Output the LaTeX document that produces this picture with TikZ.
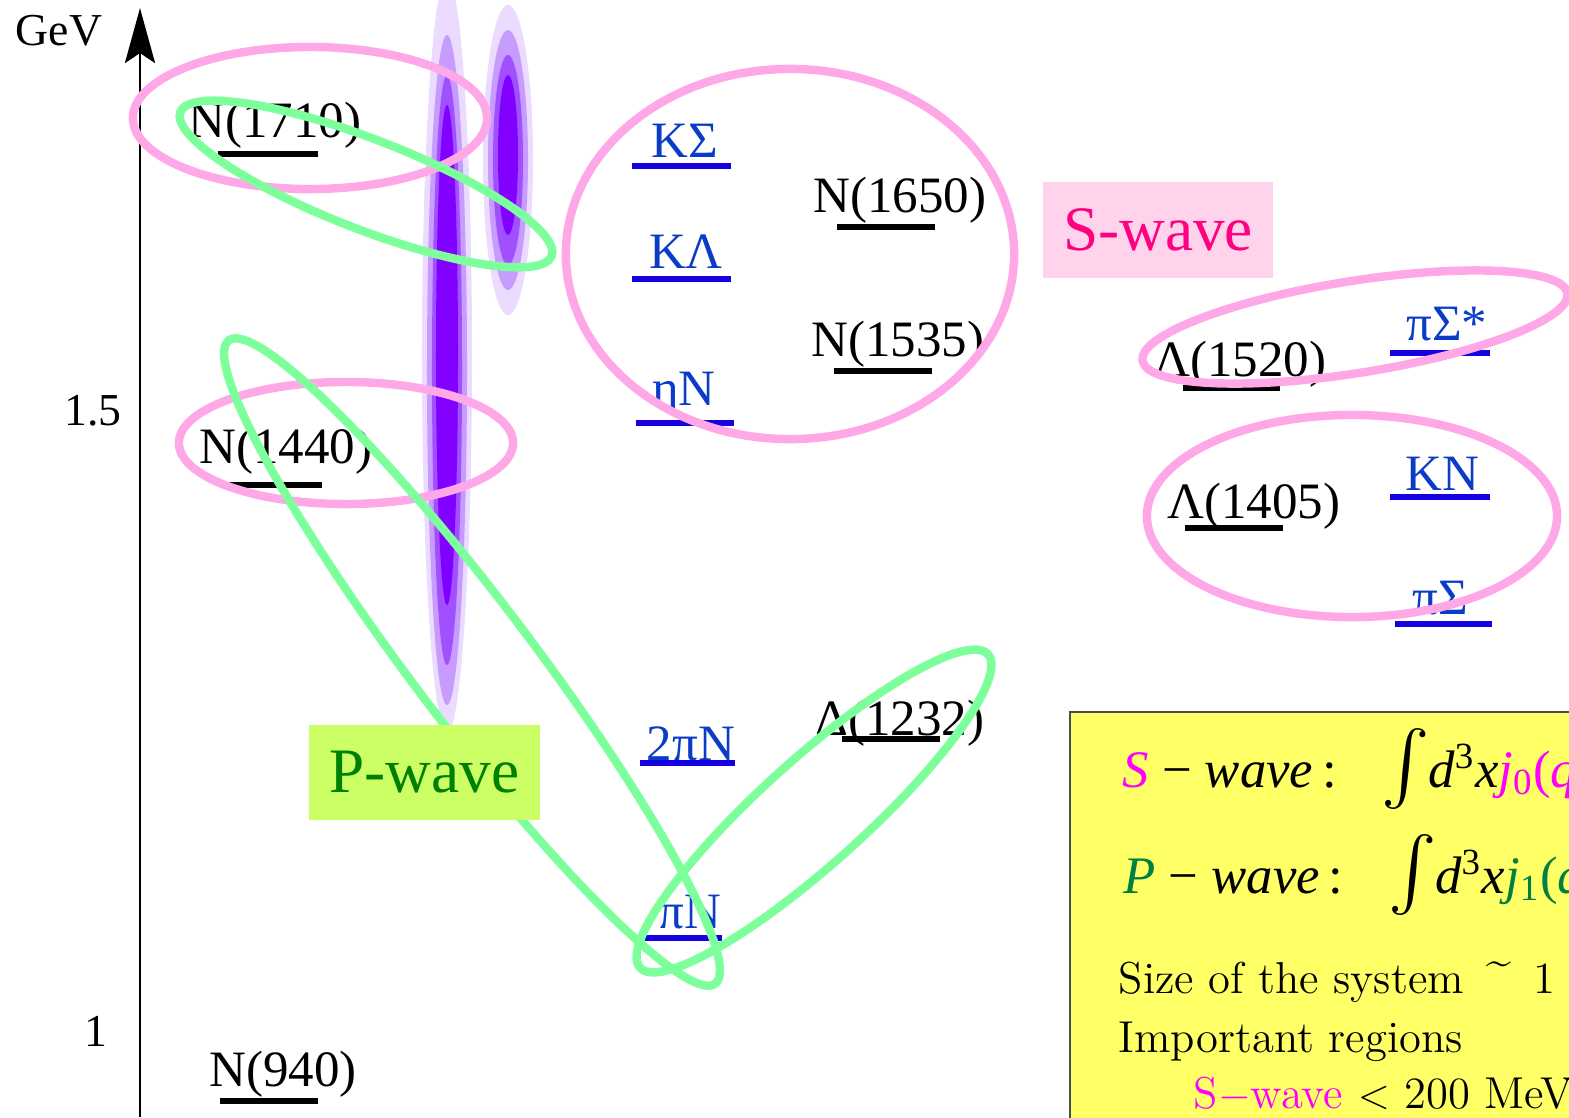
\documentclass[tikz,border=0pt]{standalone}
\usepackage{amsmath}
\usepackage{fontspec}
\newfontfamily\tnr{Liberation Serif}
\usetikzlibrary{arrows.meta}

\definecolor{swaveLine}{HTML}{FFA8E8}
\definecolor{pwaveLine}{HTML}{7DFF9B}
\definecolor{swaveFill}{HTML}{FFD3EB}
\definecolor{swaveText}{HTML}{FF0080}
\definecolor{pwaveFill}{HTML}{CCFF66}
\definecolor{pwaveText}{HTML}{008000}
\definecolor{chanBlue}{HTML}{1400E0}
\definecolor{chanText}{HTML}{0A3CC8}
\definecolor{infoFill}{HTML}{FFFF66}
\definecolor{formMag}{HTML}{FF00FF}
\definecolor{formGreen}{HTML}{008040}
\definecolor{widthA}{HTML}{EBDCFF}
\definecolor{widthB}{HTML}{C89BFF}
\definecolor{widthC}{HTML}{A050FF}
\definecolor{widthD}{HTML}{8200FF}

\begin{document}
\begin{tikzpicture}[
    x=0.01cm, y=-0.01cm,
    axisLabel/.style={font=\tnr\fontsize{13}{15}\selectfont, anchor=base east, inner sep=0pt},
    hadLabel/.style={font=\tnr\fontsize{14.5}{17}\selectfont, anchor=base, inner sep=0pt},
    chanLabel/.style={hadLabel, text=chanText},
    hadBar/.style={line width=1.8pt},
    chanBar/.style={line width=1.7pt, chanBlue},
    swaveRing/.style={swaveLine, line width=2.4pt},
    pwaveRing/.style={pwaveLine, line width=2.4pt},
    waveBox/.style={font=\tnr\fontsize{18}{20}\selectfont, inner sep=0pt,
        minimum width=2.3cm, minimum height=0.95cm},
    infoText/.style={font=\fontsize{12.7}{15}\selectfont, anchor=base west, inner sep=0pt},
    formText/.style={font=\tnr\fontsize{15}{17}\selectfont, anchor=base west, inner sep=0pt}
]
    \useasboundingbox (0,0) rectangle (1569,1117);

    % widths of the resonances
    \fill[widthA] (447,355) ellipse [x radius=0.25cm, y radius=3.78cm];
    \fill[widthB] (447,370) ellipse [x radius=0.20cm, y radius=3.35cm];
    \fill[widthC] (447,370) ellipse [x radius=0.15cm, y radius=2.95cm];
    \fill[widthD] (447,355) ellipse [x radius=0.11cm, y radius=2.5cm];
    \fill[widthA] (508,160) ellipse [x radius=0.25cm, y radius=1.55cm];
    \fill[widthB] (508,160) ellipse [x radius=0.20cm, y radius=1.3cm];
    \fill[widthC] (508,160) ellipse [x radius=0.15cm, y radius=1.05cm];
    \fill[widthD] (508,155) ellipse [x radius=0.10cm, y radius=0.8cm];

    % energy axis
    \coordinate (axisLow) at (140,1117);
    \coordinate (axisTop) at (140,8);
    \draw[line width=0.85pt, -{Stealth[length=0.55cm, width=0.3cm, inset=0.1cm]}] (axisLow) -- (axisTop);
    \node[axisLabel] (gev) at (103,45) {GeV};
    \node[axisLabel] (tick15) at (122,425) {1.5};
    \node[axisLabel] (tick1) at (108,1046) {1};

    % nucleon and hyperon resonances
    \node[hadLabel] (N1710) at (275,137) {N(1710)};
    \draw[hadBar] (218,154) -- (318,154);
    \node[hadLabel] (N1440) at (286,463) {N(1440)};
    \draw[hadBar] (228,485) -- (322,485);
    \node[hadLabel] (N940) at (283,1086) {N(940)};
    \draw[hadBar] (220,1101) -- (318,1101);
    \node[hadLabel] (N1650) at (900,212) {N(1650)};
    \draw[hadBar] (837,227) -- (935,227);
    \node[hadLabel] (N1535) at (898,356) {N(1535)};
    \draw[hadBar] (834,371) -- (932,371);
    \node[hadLabel] (D1232) at (900,735) {Δ(1232)};
    \draw[hadBar] (842,739) -- (940,739);
    \node[hadLabel] (L1520) at (1240,376) {Λ(1520)};
    \draw[hadBar] (1183,388) -- (1280,388);
    \node[hadLabel] (L1405) at (1254,518) {Λ(1405)};
    \draw[hadBar] (1185,528) -- (1283,528);

    % meson-baryon channels
    \node[chanLabel] (KSig) at (685,157) {KΣ};
    \draw[chanBar] (632,166) -- (731,166);
    \node[chanLabel] (KLam) at (686,268) {KΛ};
    \draw[chanBar] (632,279) -- (731,279);
    \node[chanLabel] (etaN) at (684,405) {ηN};
    \draw[chanBar] (636,423) -- (734,423);
    \node[chanLabel] (twopiN) at (691,760) {2πN};
    \draw[chanBar] (640,763) -- (735,763);
    \node[chanLabel] (piN) at (690,928) {πN};
    \draw[chanBar] (645,938) -- (722,938);
    \node[chanLabel] (piSigS) at (1447,340) {πΣ*};
    \draw[chanBar] (1390,353) -- (1490,353);
    \node[chanLabel] (KbarN) at (1442,490) {KN};
    \draw[chanBar] (1390,497) -- (1490,497);
    \node[chanLabel] (piSig) at (1440,614) {πΣ};
    \draw[chanBar] (1395,624) -- (1492,624);

    % S-wave rings
    \draw[swaveRing] (310,118) ellipse [x radius=1.77cm, y radius=0.71cm];
    \draw[swaveRing] (346,443) ellipse [x radius=1.67cm, y radius=0.61cm];
    \draw[swaveRing] (790,254) ellipse [x radius=2.24cm, y radius=1.85cm];
    \draw[swaveRing, rotate around={9:(1355,327)}] (1355,327) ellipse [x radius=2.15cm, y radius=0.46cm];
    \draw[swaveRing] (1352,516) ellipse [x radius=2.05cm, y radius=1.01cm];

    % P-wave rings
    \draw[pwaveRing, rotate around={-21.2:(366,184)}] (366,184) ellipse [x radius=1.99cm, y radius=0.45cm];
    \draw[pwaveRing, rotate around={-52.9:(472,662)}] (472,662) ellipse [x radius=4.03cm, y radius=0.6cm];
    \draw[pwaveRing, rotate around={42:(814,811)}] (814,811) ellipse [x radius=2.34cm, y radius=0.52cm];

    % wave labels
    \node[waveBox, fill=pwaveFill, text=pwaveText] (pwave) at (424.5,772.5) {P-wave};
    \node[waveBox, fill=swaveFill, text=swaveText] (swave) at (1158,230) {S-wave};

    % form factors
    \draw[fill=infoFill, draw=black!70, line width=0.6pt] (1070,712) rectangle (1600,1140);
    \node[formText] (sform) at (1122,787) {\textcolor{formMag}{\textit{S}}\hspace{0.13cm}−\hspace{0.13cm}\textit{wave}\,:\hspace{0.45cm}{\fontsize{21}{21}\selectfont$\int$}\hspace{-0.02cm}\textit{d}\textsuperscript{3}\textit{x}\textcolor{formMag}{\textit{j}\textsubscript{0}(\textit{q}}};
    \node[formText] (pform) at (1123,893) {\textcolor{formGreen}{\textit{P}}\hspace{0.13cm}−\hspace{0.13cm}\textit{wave}\,:\hspace{0.45cm}{\fontsize{21}{21}\selectfont$\int$}\hspace{-0.02cm}\textit{d}\textsuperscript{3}\textit{x}\textcolor{formGreen}{\textit{j}\textsubscript{1}(\textit{q}}};
    \node[infoText] (sizeLine) at (1118,993) {Size of the system\hspace{0.5em}\raisebox{0.9ex}{\textasciitilde}\hspace{0.5em}1};
    \node[infoText] (regLine) at (1118,1052) {Important regions};
    \node[infoText] (sLine) at (1193,1108) {\textcolor{formMag}{S$-$wave} $<$ 200 MeV};
\end{tikzpicture}
\end{document}
